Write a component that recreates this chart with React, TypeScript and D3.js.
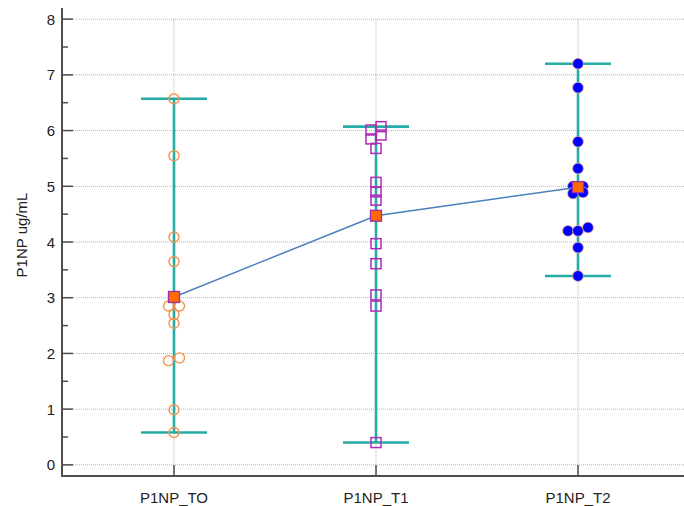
import React from "react";
import * as d3 from "d3";

// groups along the x axis
const categories = ["P1NP_TO", "P1NP_T1", "P1NP_T2"];

const valuesT0 = [6.57, 5.55, 4.09, 3.65, 2.85, 2.85, 2.70, 2.54, 1.87, 1.92, 0.99, 0.58];
const valuesT1 = [6.07, 6.01, 5.92, 5.85, 5.68, 5.07, 4.90, 4.75, 3.97, 3.61, 3.05, 2.85, 0.40];
const valuesT2 = [7.20, 6.77, 5.80, 5.32, 5.00, 5.00, 4.87, 4.89, 4.20, 4.20, 4.26, 3.90, 3.39];

// jitter slot of each point (left / centre / right) so overlapping points stay visible
const jitterT0 = [0, 0, 0, 0, -1, 1, 0, 0, -1, 1, 0, 0];
const jitterT1 = [1, -1, 1, -1, 0, 0, 0, 0, 0, 0, 0, 0, 0];
const jitterT2 = [0, 0, 0, 0, -1, 1, -1, 1, -2, 0, 2, 0, 0];

const yTicks = [0, 1, 2, 3, 4, 5, 6, 7, 8];
const yMinorTicks = [0.5, 1.5, 2.5, 3.5, 4.5, 5.5, 6.5, 7.5];

const WIDTH = 684;
const HEIGHT = 506;
const AXIS_X = 62;
const AXIS_Y = 476;
const TOP = 8;
const FONT = "'Liberation Sans', Arial, sans-serif";
const FS = 15;

const TEAL = "#26aca6";
const ORANGE = "#f7934a";
const MAGENTA = "#b02cb4";

export default function App() {
  const x = d3.scalePoint<string>().domain(categories).range([174, 578]).padding(0);
  const y = d3.scaleLinear().domain([-0.2, 8.2]).range([AXIS_Y, TOP]);

  const groups = [
    { name: categories[0], values: valuesT0, jitter: jitterT0, step: 5.5 },
    { name: categories[1], values: valuesT1, jitter: jitterT1, step: 5 },
    { name: categories[2], values: valuesT2, jitter: jitterT2, step: 5 },
  ];

  const means = groups.map((g) => ({ name: g.name, mean: d3.mean(g.values) as number }));
  const meanLine = d3
    .line<{ name: string; mean: number }>()
    .x((d) => x(d.name) as number)
    .y((d) => y(d.mean));

  const capHalf = 33;

  return (
    <svg
      width={WIDTH}
      height={HEIGHT}
      style={{ position: "absolute", left: 0, top: 0, background: "#fff" }}
      fontFamily={FONT}
    >
      {/* grid */}
      {yTicks.map((t) => (
        <line
          key={"gy" + t}
          x1={AXIS_X + 1}
          x2={WIDTH}
          y1={y(t)}
          y2={y(t)}
          stroke="#b4b4b4"
          strokeWidth={1}
          strokeDasharray="1,1"
        />
      ))}
      {categories.map((c) => (
        <line
          key={"gx" + c}
          x1={x(c)}
          x2={x(c)}
          y1={y(8)}
          y2={AXIS_Y}
          stroke="#b4b4b4"
          strokeWidth={1}
          strokeDasharray="1,1"
        />
      ))}

      {/* axes */}
      <line x1={AXIS_X} x2={AXIS_X} y1={TOP} y2={AXIS_Y + 1} stroke="#4d4d4d" strokeWidth={2} />
      <line x1={AXIS_X - 1} x2={WIDTH} y1={AXIS_Y} y2={AXIS_Y} stroke="#4d4d4d" strokeWidth={2} />
      {yTicks.map((t) => (
        <g key={"ty" + t}>
          <line x1={AXIS_X} x2={AXIS_X + 11} y1={y(t)} y2={y(t)} stroke="#4d4d4d" strokeWidth={1.5} />
          <text
            x={AXIS_X - 7}
            y={y(t)}
            textAnchor="end"
            dominantBaseline="central"
            fontSize={FS}
            fill="#222"
          >
            {t}
          </text>
        </g>
      ))}
      {yMinorTicks.map((t) => (
        <line key={"my" + t} x1={AXIS_X} x2={AXIS_X + 6} y1={y(t)} y2={y(t)} stroke="#4d4d4d" strokeWidth={1.5} />
      ))}
      {categories.map((c) => (
        <g key={"tx" + c}>
          <line x1={x(c)} x2={x(c)} y1={AXIS_Y} y2={AXIS_Y - 11} stroke="#4d4d4d" strokeWidth={1.5} />
          <text x={x(c)} y={497} textAnchor="middle" dominantBaseline="central" fontSize={FS} fill="#222">
            {c}
          </text>
        </g>
      ))}
      <text
        transform={`translate(21,${235}) rotate(-90)`}
        textAnchor="middle"
        dominantBaseline="central"
        fontSize={FS}
        fill="#222"
      >
        P1NP ug/mL
      </text>

      {/* range whiskers */}
      {groups.map((g) => {
        const [lo, hi] = d3.extent(g.values) as [number, number];
        const cx = x(g.name) as number;
        return (
          <g key={"w" + g.name} stroke={TEAL} strokeWidth={2.6}>
            <line x1={cx} x2={cx} y1={y(lo)} y2={y(hi)} />
            <line x1={cx - capHalf} x2={cx + capHalf} y1={y(lo)} y2={y(lo)} />
            <line x1={cx - capHalf} x2={cx + capHalf} y1={y(hi)} y2={y(hi)} />
          </g>
        );
      })}

      {/* points */}
      {groups[0].values.map((v, i) => (
        <circle
          key={"p0" + i}
          cx={(x(groups[0].name) as number) + groups[0].jitter[i] * groups[0].step}
          cy={y(v)}
          r={5}
          fill="none"
          stroke={ORANGE}
          strokeWidth={1.4}
        />
      ))}
      {groups[1].values.map((v, i) => (
        <rect
          key={"p1" + i}
          x={(x(groups[1].name) as number) + groups[1].jitter[i] * groups[1].step - 5}
          y={y(v) - 5}
          width={10}
          height={10}
          fill="none"
          stroke={MAGENTA}
          strokeWidth={1.5}
        />
      ))}
      {groups[2].values.map((v, i) => (
        <circle
          key={"p2" + i}
          cx={(x(groups[2].name) as number) + groups[2].jitter[i] * groups[2].step}
          cy={y(v)}
          r={5.4}
          fill="#0000ff"
          stroke="#f2b08a"
          strokeWidth={0.8}
        />
      ))}

      {/* means */}
      <path d={meanLine(means) || ""} fill="none" stroke="#4a7fbf" strokeWidth={1.5} />
      {means.map((m) => (
        <rect
          key={"m" + m.name}
          x={(x(m.name) as number) - 5.5}
          y={y(m.mean) - 5.5}
          width={11}
          height={11}
          fill="#ff6a00"
          stroke="#9c2fb0"
          strokeWidth={1.3}
        />
      ))}
    </svg>
  );
}
